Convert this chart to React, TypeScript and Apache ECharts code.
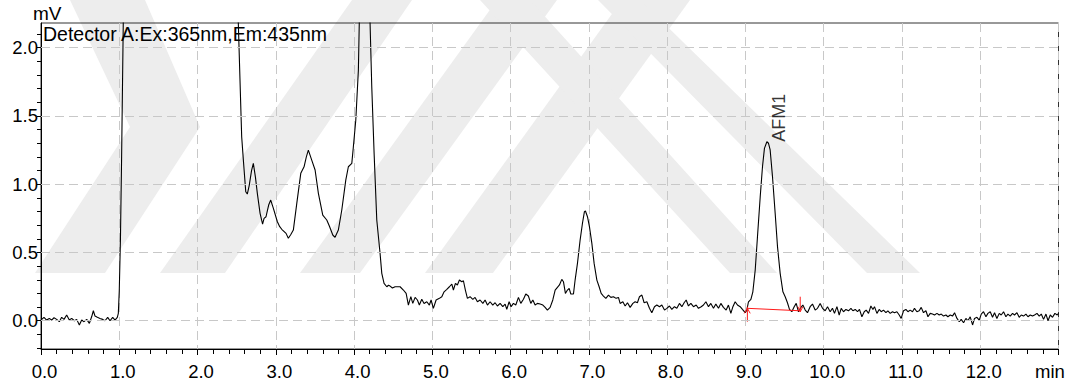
import React, { useEffect, useRef } from "react";
import * as echarts from "echarts";

// ---------- data ----------
const xMin = 0;
const xMax = 13;
const yMin = -0.207;
const yMax = 2.181;
const yLabelValues = [0, 0.5, 1.0, 1.5, 2.0];
const yTickValues = [-0.2, -0.1, 0, 0.1, 0.2, 0.3, 0.4, 0.5, 0.6, 0.7, 0.8, 0.9, 1.0, 1.1, 1.2, 1.3, 1.4, 1.5, 1.6, 1.7, 1.8, 1.9, 2.0, 2.1];
const yGridValues = [0, 0.5, 1.0, 1.5, 2.0];

const baselineStart: number[][] = [
  [0.0, 0.012], [0.01, 0.01], [0.038, 0.025], [0.072, 0.005], [0.106, 0.017], [0.136, 0.005], [0.166, 0.022],
  [0.2, 0.01], [0.234, -0.007], [0.264, 0.025], [0.294, 0.01], [0.328, 0.042], [0.362, 0.005], [0.392, 0.017],
  [0.426, 0.0], [0.456, 0.01], [0.49, -0.031], [0.52, 0.005], [0.55, -0.007], [0.584, 0.01], [0.618, -0.019],
  [0.647, 0.029], [0.669, 0.073], [0.69, 0.034], [0.72, 0.025], [0.754, 0.017], [0.788, 0.01], [0.818, 0.0],
  [0.852, 0.025], [0.882, 0.0], [0.916, 0.025], [0.946, 0.005], [0.975, 0.025], [0.988, 0.054],
];

const solventFront: number[][] = [
  [1.0, 0.22], [1.015, 0.6], [1.03, 1.2], [1.045, 1.9], [1.06, 2.6], [1.08, 3.4], [1.1, 4.0], [1.3, 4.6],
  [1.8, 4.4], [2.2, 4.0], [2.45, 3.4], [2.5, 2.59],
];

const earlyPeaks: number[][] = [
  [2.556, 1.5], [2.564, 1.348], [2.585, 1.18], [2.616, 0.945], [2.636, 0.928], [2.66, 0.99], [2.69, 1.1],
  [2.713, 1.153], [2.74, 1.05], [2.764, 0.933], [2.799, 0.787], [2.831, 0.708], [2.85, 0.75], [2.875, 0.762],
  [2.91, 0.85], [2.935, 0.884], [2.969, 0.823], [3.02, 0.725], [3.05, 0.689], [3.076, 0.67], [3.131, 0.64],
  [3.16, 0.604], [3.19, 0.63], [3.224, 0.664], [3.268, 0.86], [3.319, 1.08], [3.361, 1.128], [3.39, 1.2],
  [3.416, 1.25], [3.459, 1.177], [3.502, 1.104], [3.544, 0.933], [3.6, 0.774], [3.651, 0.738], [3.684, 0.694],
  [3.728, 0.628], [3.757, 0.611], [3.799, 0.664], [3.843, 0.811], [3.894, 1.03], [3.927, 1.128], [3.971, 1.153],
  [3.991, 1.275], [4.022, 1.47], [4.055, 1.837], [4.1, 3.2], [4.14, 3.6], [4.18, 2.7], [4.226, 1.714],
  [4.256, 1.226], [4.29, 0.738], [4.332, 0.494], [4.354, 0.347], [4.383, 0.274], [4.418, 0.249], [4.44, 0.26],
  [4.46, 0.254], [4.49, 0.24], [4.524, 0.249],
];

const midSection: number[][] = [
  [4.588, 0.249], [4.63, 0.225], [4.665, 0.2], [4.694, 0.115], [4.725, 0.176], [4.75, 0.127], [4.78, 0.171],
  [4.809, 0.152], [4.834, 0.115], [4.865, 0.157], [4.894, 0.127], [4.929, 0.139], [4.962, 0.115], [4.984, 0.152],
  [5.013, 0.091], [5.048, 0.152], [5.09, 0.164], [5.121, 0.176], [5.15, 0.212], [5.185, 0.23], [5.218, 0.249],
  [5.249, 0.269], [5.269, 0.225], [5.295, 0.274], [5.32, 0.262], [5.346, 0.298], [5.376, 0.286], [5.397, 0.293],
  [5.422, 0.225], [5.448, 0.164], [5.482, 0.176], [5.517, 0.157], [5.546, 0.171], [5.576, 0.139], [5.61, 0.152],
  [5.645, 0.127], [5.674, 0.152], [5.704, 0.115], [5.738, 0.139], [5.772, 0.115], [5.802, 0.132], [5.831, 0.108],
  [5.866, 0.127], [5.9, 0.103], [5.93, 0.122], [5.951, 0.083], [5.981, 0.139], [6.006, 0.103], [6.036, 0.127],
  [6.066, 0.115], [6.1, 0.171], [6.13, 0.127], [6.164, 0.157], [6.194, 0.196], [6.227, 0.181], [6.258, 0.127],
  [6.284, 0.152], [6.313, 0.115], [6.343, 0.127], [6.377, 0.122], [6.412, 0.115], [6.441, 0.098], [6.47, 0.078],
  [6.505, 0.098], [6.539, 0.152], [6.569, 0.225], [6.598, 0.245], [6.624, 0.262], [6.654, 0.303], [6.675, 0.286],
  [6.7, 0.2], [6.726, 0.225], [6.748, 0.237], [6.769, 0.196], [6.803, 0.196], [6.824, 0.298], [6.854, 0.42],
  [6.888, 0.591], [6.918, 0.714], [6.943, 0.799], [6.956, 0.804], [6.982, 0.762], [7.007, 0.689], [7.038, 0.567],
  [7.067, 0.42], [7.102, 0.298], [7.131, 0.249], [7.157, 0.2], [7.186, 0.181], [7.217, 0.164], [7.25, 0.188],
  [7.281, 0.171], [7.314, 0.176], [7.348, 0.164], [7.378, 0.171],
];

const afm1Region: number[][] = [
  [7.399, 0.127], [7.434, 0.139], [7.463, 0.108], [7.493, 0.132], [7.527, 0.098], [7.562, 0.127], [7.591, 0.139],
  [7.62, 0.132], [7.646, 0.176], [7.677, 0.188], [7.706, 0.132], [7.741, 0.139], [7.774, 0.091], [7.804, 0.059],
  [7.838, 0.103], [7.868, 0.115], [7.902, 0.103], [7.932, 0.115], [7.966, 0.078], [7.996, 0.091], [8.029, 0.108],
  [8.06, 0.083], [8.093, 0.103], [8.124, 0.091], [8.157, 0.127], [8.188, 0.103], [8.217, 0.132], [8.243, 0.152],
  [8.272, 0.108], [8.303, 0.127], [8.336, 0.103], [8.371, 0.115], [8.4, 0.091], [8.435, 0.103], [8.464, 0.115],
  [8.495, 0.139], [8.528, 0.103], [8.558, 0.127], [8.592, 0.091], [8.622, 0.122], [8.656, 0.091], [8.686, 0.127],
  [8.719, 0.098], [8.754, 0.078], [8.783, 0.115], [8.814, 0.054], [8.84, 0.103], [8.869, 0.139], [8.898, 0.115],
  [8.933, 0.103], [8.962, 0.083], [8.997, 0.059], [9.018, 0.078], [9.039, 0.139], [9.07, 0.157], [9.095, 0.212],
  [9.125, 0.371], [9.154, 0.615], [9.189, 0.908], [9.218, 1.128], [9.243, 1.263], [9.274, 1.311], [9.295, 1.3],
  [9.316, 1.251], [9.346, 1.055], [9.38, 0.787], [9.41, 0.542], [9.444, 0.347], [9.479, 0.212], [9.508, 0.176],
  [9.537, 0.132], [9.563, 0.083], [9.593, 0.066], [9.623, 0.103], [9.649, 0.127], [9.678, 0.066], [9.709, 0.098],
  [9.734, 0.115], [9.764, 0.078], [9.793, 0.059], [9.827, 0.103], [9.857, 0.122], [9.891, 0.078], [9.921, 0.091],
  [9.955, 0.127], [9.985, 0.091], [10.019, 0.073], [10.049, 0.103],
];

const tailSection: number[][] = [
  [10.083, 0.066], [10.112, 0.091], [10.138, 0.054], [10.169, 0.103], [10.198, 0.042], [10.224, 0.091],
  [10.253, 0.066], [10.284, 0.083], [10.317, 0.073], [10.348, 0.091], [10.373, 0.073], [10.403, 0.083],
  [10.432, 0.066], [10.457, 0.083], [10.488, 0.029], [10.518, 0.066], [10.543, 0.078], [10.573, 0.054],
  [10.603, 0.108], [10.629, 0.083], [10.649, 0.103], [10.68, 0.054], [10.709, 0.083], [10.735, 0.066],
  [10.764, 0.078], [10.795, 0.059], [10.82, 0.073], [10.85, 0.054], [10.879, 0.066], [10.905, 0.059],
  [10.935, 0.066], [10.965, 0.042], [10.99, 0.017], [11.02, 0.073], [11.05, 0.083], [11.076, 0.066],
  [11.105, 0.078], [11.135, 0.066], [11.16, 0.091], [11.191, 0.066], [11.22, 0.073], [11.246, 0.098],
  [11.275, 0.059], [11.306, 0.073], [11.332, 0.029], [11.361, 0.054], [11.39, 0.049], [11.416, 0.042],
  [11.447, 0.054], [11.476, 0.042], [11.502, 0.049], [11.531, 0.034], [11.562, 0.042], [11.587, 0.029],
  [11.617, 0.042], [11.646, 0.034], [11.672, 0.059], [11.703, 0.017], [11.732, -0.007], [11.757, 0.01],
  [11.787, -0.015], [11.817, 0.017], [11.843, 0.0], [11.872, 0.029], [11.902, -0.031], [11.927, 0.017],
  [11.958, 0.025], [11.987, 0.005], [12.013, 0.049], [12.042, 0.066], [12.073, 0.029], [12.098, 0.054],
  [12.128, 0.066], [12.157, 0.025], [12.183, 0.059], [12.213, 0.017], [12.243, 0.054], [12.268, 0.042],
  [12.298, 0.066], [12.328, 0.029], [12.354, 0.049], [12.383, 0.034], [12.413, 0.054], [12.438, 0.042],
  [12.469, 0.059], [12.498, 0.025], [12.524, 0.042], [12.553, 0.034], [12.584, 0.049], [12.61, 0.029],
  [12.639, 0.042], [12.668, 0.034], [12.694, 0.042], [12.725, 0.054], [12.754, 0.034], [12.78, 0.049],
  [12.809, 0.01], [12.84, 0.049], [12.866, 0.0], [12.895, 0.042], [12.924, 0.025], [12.954, 0.054],
  [12.984, 0.042], [13.0, 0.054],
];

// integration of AFM1 peak (start / end of baseline, time and signal)
const integrationStart = [9.025, 0.091];
const integrationEnd = [9.7, 0.073];
const peakName = "AFM1";
const peakApex = [9.274, 1.311];
const detectorTitle = "Detector A:Ex:365nm,Em:435nm";
const yUnit = "mV";
const xUnit = "min";

const FONT = "'Liberation Sans', Arial, sans-serif";

// faint background watermark (decoration, pixel shapes)
const WATERMARK_SHAPES: number[][][] = [
  [[70, 0], [145, 0], [200, 127], [105, 273], [35, 273], [130, 127]],
  [[352, 0], [412, 0], [225, 273], [160, 273]],
  [[497, 0], [557, 0], [360, 273], [300, 273]],
  [[622, 0], [690, 0], [493, 273], [425, 273]],
  [[480, 0], [530, 0], [777, 273], [730, 273]],
  [[598, 0], [640, 0], [920, 273], [867, 273]],
];

export default function App() {
  const ref = useRef<HTMLDivElement>(null);

  useEffect(() => {
    if (!ref.current) return;
    const chart = echarts.init(ref.current, undefined, { renderer: "svg" });

    const trace = [
      ...baselineStart,
      ...solventFront,
      ...earlyPeaks,
      ...midSection,
      ...afm1Region,
      ...tailSection,
    ];

    const red = "#ff1a1a";
    const [t0, v0] = integrationStart;
    const [t1, v1] = integrationEnd;
    const redSeries = (data: number[][]) => ({
      type: "line",
      data,
      symbol: "none",
      silent: true,
      z: 4,
      lineStyle: { color: red, width: 1 },
    });

    const watermark = WATERMARK_SHAPES.map((pts) => ({
      type: "polygon",
      silent: true,
      z: -10,
      shape: { points: pts },
      style: { fill: "#ededed", stroke: "none" },
    }));

    chart.setOption({
      animation: false,
      backgroundColor: "#ffffff",
      grid: {
        left: 41,
        right: 21.5,
        top: 23,
        bottom: 40,
        show: true,
        borderColor: "#333",
        borderWidth: 1,
        outerBoundsMode: "none",
      },
      xAxis: {
        type: "value",
        min: xMin,
        max: xMax,
        interval: 1,
        axisLine: { show: true, onZero: false, lineStyle: { color: "#000", width: 1 } },
        axisTick: { show: true, length: 6, lineStyle: { color: "#000", width: 1 } },
        minorTick: { show: true, splitNumber: 5, length: 5, lineStyle: { color: "#000", width: 1 } },
        splitLine: { show: true, lineStyle: { color: "#c8c8c8", width: 1, type: [9, 5] } },
        axisLabel: {
          show: true,
          margin: 13,
          showMinLabel: true,
          showMaxLabel: true,
          formatter: (v: number) => (Math.abs(v - xMax) < 1e-9 ? "{u|" + xUnit + "}" : "{n|" + v.toFixed(1) + "}"),
          rich: {
            n: { fontSize: 18.5, fontFamily: FONT, color: "#000", padding: [0, 0, 0, 7] },
            u: { fontSize: 18.5, fontFamily: FONT, color: "#000", padding: [0, 17, 0, 0] },
          },
        },
      },
      yAxis: {
        type: "value",
        min: yMin,
        max: yMax,
        axisLine: { show: true, onZero: false, lineStyle: { color: "#000", width: 1 } },
        axisTick: { show: true, length: 4, customValues: yTickValues, lineStyle: { color: "#000", width: 1 } },
        axisLabel: {
          show: true,
          customValues: yLabelValues,
          margin: 3,
          fontSize: 18.5,
          fontFamily: FONT,
          color: "#000",
          formatter: (v: number) => v.toFixed(1),
        },
        splitLine: { show: false },
      },
      graphic: [
        ...watermark,
        {
          type: "text",
          left: 33,
          top: 4,
          silent: true,
          style: { text: yUnit, fontSize: 19, fontFamily: FONT, fill: "#000" },
        },
        {
          type: "text",
          left: 43,
          top: 24,
          silent: true,
          z: 10,
          style: { text: detectorTitle, fontSize: 19.5, fontFamily: FONT, fill: "#000" },
        },
      ],
      series: [
        {
          type: "line",
          data: [],
          silent: true,
          z: 1,
          markLine: {
            silent: true,
            symbol: ["none", "none"],
            label: { show: false },
            emphasis: { disabled: true },
            lineStyle: { color: "#c8c8c8", width: 1, type: [9, 5] },
            data: yGridValues.map((v) => ({ yAxis: v })),
          },
        },
        {
          type: "line",
          data: trace,
          symbol: "none",
          showSymbol: false,
          silent: true,
          clip: true,
          z: 3,
          lineStyle: { color: "#000", width: 1.1 },
        },
        redSeries([integrationStart, integrationEnd]),
        redSeries([[t0, -0.007], [t0, v0 + 0.012]]),
        redSeries([[t0 - 0.04, v0 - 0.037], [t0, v0], [t0 + 0.036, v0 - 0.037]]),
        redSeries([[t1, v1 + 0.103], [t1, v1 - 0.007]]),
        redSeries([[t1 - 0.03, v1 + 0.03], [t1, v1 - 0.007], [t1 + 0.034, v1 + 0.03]]),
        {
          type: "scatter",
          data: [[peakApex[0] + 0.157, peakApex[1]]],
          symbolSize: 0,
          silent: true,
          z: 5,
          label: {
            show: true,
            position: "inside",
            formatter: peakName,
            rotate: 90,
            align: "left",
            verticalAlign: "middle",
            fontSize: 18,
            fontFamily: FONT,
            color: "#000",
          },
        },
      ],
    });

    return () => chart.dispose();
  }, []);

  return (
    <div
      ref={ref}
      style={{ position: "fixed", left: 0, top: 0, width: "1080px", height: "389px", background: "#fff" }}
    />
  );
}
